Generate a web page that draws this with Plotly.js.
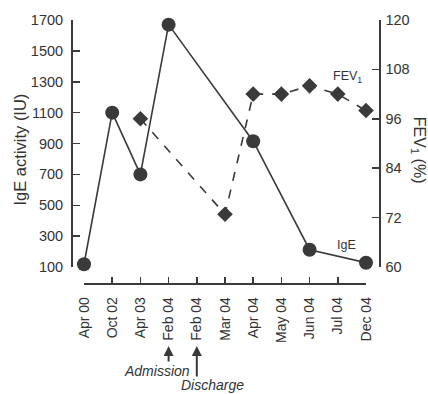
<!DOCTYPE html>
<html><head><meta charset="utf-8">
<script src="https://cdn.plot.ly/plotly-3.0.1.min.js"></script>
<style>html,body{margin:0;padding:0;background:#fff}#chart{width:428px;height:394px}</style>
</head><body><div id="chart"></div>
<script>
var categories = ["Apr 00","Oct 02","Apr 03","Feb 04","Feb 04","Mar 04","Apr 04","May 04","Jun 04","Jul 04","Dec 04"];
var igeIdx = [0, 1, 2, 3, 6, 8, 10];
var igeValues = [118, 1100, 700, 1670, 915, 212, 128];
var fevIdx = [2, 5, 6, 7, 8, 9, 10];
var fevValues = [96, 72.8, 102, 102, 104, 102, 98];
var leftTicks = [100,300,500,700,900,1100,1300,1500,1700];
var rightTicks = [60,72,84,96,108,120];

var ink = '#3a3a3a';
var font = 'Liberation Sans, Arial, sans-serif';
var tickIdx = categories.map(function(c,i){return i;});

var traces = [
  {x: igeIdx, y: igeValues, type:'scatter', mode:'lines+markers', yaxis:'y',
   line:{color:ink, width:1.6}, marker:{symbol:'circle', size:14, color:ink}, cliponaxis:false},
  {x: fevIdx, y: fevValues, type:'scatter', mode:'lines+markers', yaxis:'y2',
   line:{color:ink, width:1.6, dash:'dash'}, marker:{symbol:'diamond', size:12, color:ink}, cliponaxis:false}
];

var layout = {
  width:428, height:394,
  margin:{l:71, r:49, t:20, b:111},
  paper_bgcolor:'#fff', plot_bgcolor:'#fff',
  showlegend:false,
  font:{family:font, color:'#333'},
  xaxis:{domain:[0.0422,0.9578], range:[0,10], anchor:'free', position:0,
    tickmode:'array', tickvals:tickIdx, ticktext:categories, tickangle:-90,
    showgrid:false, zeroline:false, showline:true, linecolor:ink, linewidth:1.5,
    ticks:'inside', ticklen:6, tickcolor:ink, tickwidth:1.5, ticklabelstandoff:7,
    tickfont:{size:14, color:'#333'}},
  yaxis:{domain:[0.0608,1], range:[100,1700], anchor:'free', position:0, side:'left',
    tickmode:'array', tickvals:leftTicks, showgrid:false, zeroline:false,
    showline:true, linecolor:ink, linewidth:1.5, ticks:'inside', ticklen:7,
    tickcolor:ink, tickwidth:1.5, ticklabelstandoff:5, tickfont:{size:14.5, color:'#333'}},
  yaxis2:{domain:[0.0608,1], range:[60,120], anchor:'free', position:1, side:'right',
    overlaying:'y', tickmode:'array', tickvals:rightTicks, showgrid:false, zeroline:false,
    showline:true, linecolor:ink, linewidth:1.5, ticks:'inside', ticklen:7,
    tickcolor:ink, tickwidth:1.5, ticklabelstandoff:2, tickfont:{size:14.5, color:'#333'}},
  annotations:[
    {text:'IgE activity (IU)', xref:'paper', yref:'paper', x:-0.167, y:0.506,
     textangle:-90, showarrow:false, font:{size:16.5, color:'#333'}, xanchor:'center', yanchor:'middle'},
    {text:'FEV<sub>1</sub> (%)', xref:'paper', yref:'paper', x:1.127, y:0.506,
     textangle:90, showarrow:false, font:{size:16, color:'#333'}, xanchor:'center', yanchor:'middle'},
    {text:'FEV<sub>1</sub>', xref:'x', yref:'y2', x:9.33, y:106.1, showarrow:false,
     font:{size:12.5, color:'#333'}, xanchor:'center', yanchor:'middle'},
    {text:'IgE', xref:'x', yref:'y', x:9.3, y:240, showarrow:false,
     font:{size:12.5, color:'#333'}, xanchor:'center', yanchor:'middle'},
    {text:'', xref:'x', yref:'paper', x:3, y:-0.24, showarrow:true, arrowhead:2,
     arrowsize:1, arrowwidth:2, arrowcolor:ink, ax:0, ay:17, standoff:0},
    {text:'', xref:'x', yref:'paper', x:4, y:-0.24, showarrow:true, arrowhead:2,
     arrowsize:1, arrowwidth:2, arrowcolor:ink, ax:0, ay:32, standoff:0},
    {text:'<i>Admission</i>', xref:'x', yref:'paper', x:2.6, y:-0.335, showarrow:false,
     font:{size:14, color:'#333'}, xanchor:'center', yanchor:'middle'},
    {text:'<i>Discharge</i>', xref:'x', yref:'paper', x:4.55, y:-0.388, showarrow:false,
     font:{size:14, color:'#333'}, xanchor:'center', yanchor:'middle'}
  ]
};
Plotly.newPlot('chart', traces, layout, {staticPlot:true, displayModeBar:false});
</script></body></html>
